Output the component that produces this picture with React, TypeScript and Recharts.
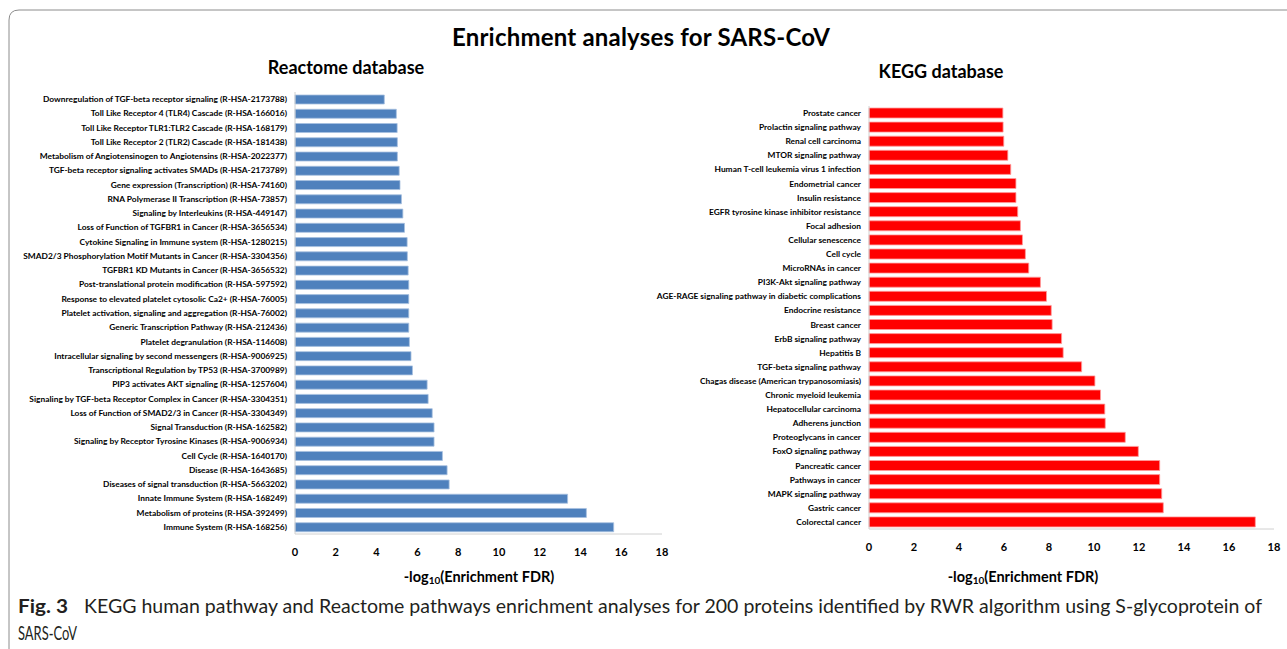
import React from 'react';
import { BarChart, Bar, XAxis, YAxis } from 'recharts';

const xTicks = [0, 2, 4, 6, 8, 10, 12, 14, 16, 18];

const reactomeLabels = [
  'Downregulation of TGF-beta receptor signaling (R-HSA-2173788)',
  'Toll Like Receptor 4 (TLR4) Cascade (R-HSA-166016)',
  'Toll Like Receptor TLR1:TLR2 Cascade (R-HSA-168179)',
  'Toll Like Receptor 2 (TLR2) Cascade (R-HSA-181438)',
  'Metabolism of Angiotensinogen to Angiotensins (R-HSA-2022377)',
  'TGF-beta receptor signaling activates SMADs (R-HSA-2173789)',
  'Gene expression (Transcription) (R-HSA-74160)',
  'RNA Polymerase II Transcription (R-HSA-73857)',
  'Signaling by Interleukins (R-HSA-449147)',
  'Loss of Function of TGFBR1 in Cancer (R-HSA-3656534)',
  'Cytokine Signaling in Immune system (R-HSA-1280215)',
  'SMAD2/3 Phosphorylation Motif Mutants in Cancer (R-HSA-3304356)',
  'TGFBR1 KD Mutants in Cancer (R-HSA-3656532)',
  'Post-translational protein modification (R-HSA-597592)',
  'Response to elevated platelet cytosolic Ca2+ (R-HSA-76005)',
  'Platelet activation, signaling and aggregation (R-HSA-76002)',
  'Generic Transcription Pathway (R-HSA-212436)',
  'Platelet degranulation  (R-HSA-114608)',
  'Intracellular signaling by second messengers (R-HSA-9006925)',
  'Transcriptional Regulation by TP53 (R-HSA-3700989)',
  'PIP3 activates AKT signaling (R-HSA-1257604)',
  'Signaling by TGF-beta Receptor Complex in Cancer (R-HSA-3304351)',
  'Loss of Function of SMAD2/3 in Cancer (R-HSA-3304349)',
  'Signal Transduction (R-HSA-162582)',
  'Signaling by Receptor Tyrosine Kinases (R-HSA-9006934)',
  'Cell Cycle (R-HSA-1640170)',
  'Disease (R-HSA-1643685)',
  'Diseases of signal transduction (R-HSA-5663202)',
  'Innate Immune System (R-HSA-168249)',
  'Metabolism of proteins (R-HSA-392499)',
  'Immune System (R-HSA-168256)',
];
const reactomeValues = [
  4.38, 4.97, 5.01, 5.02, 5.02, 5.11, 5.15, 5.22, 5.29, 5.37, 5.5, 5.51, 5.55, 5.58, 5.58, 5.58,
  5.58, 5.61, 5.69, 5.76, 6.48, 6.53, 6.73, 6.82, 6.82, 7.23, 7.46, 7.56, 13.37, 14.29, 15.63,
];

const keggLabels = [
  'Prostate cancer',
  'Prolactin signaling pathway',
  'Renal cell carcinoma',
  'MTOR signaling pathway',
  'Human T-cell leukemia virus 1 infection',
  'Endometrial cancer',
  'Insulin resistance',
  'EGFR tyrosine kinase inhibitor resistance',
  'Focal adhesion',
  'Cellular senescence',
  'Cell cycle',
  'MicroRNAs in cancer',
  'PI3K-Akt signaling pathway',
  'AGE-RAGE signaling pathway in diabetic complications',
  'Endocrine resistance',
  'Breast cancer',
  'ErbB signaling pathway',
  'Hepatitis B',
  'TGF-beta signaling pathway',
  'Chagas disease (American trypanosomiasis)',
  'Chronic myeloid leukemia',
  'Hepatocellular carcinoma',
  'Adherens junction',
  'Proteoglycans in cancer',
  'FoxO signaling pathway',
  'Pancreatic cancer',
  'Pathways in cancer',
  'MAPK signaling pathway',
  'Gastric cancer',
  'Colorectal cancer',
];
const keggValues = [
  5.95, 5.96, 5.99, 6.17, 6.3, 6.53, 6.53, 6.61, 6.73, 6.82, 6.95, 7.1, 7.62, 7.89, 8.1, 8.14,
  8.56, 8.63, 9.45, 10.04, 10.29, 10.48, 10.5, 11.39, 11.97, 12.92, 12.92, 13.01, 13.08, 17.17,
];

const reactomeData = reactomeLabels.map((name, i) => ({ name, value: reactomeValues[i] }));
const keggData = keggLabels.map((name, i) => ({ name, value: keggValues[i] }));

const FONT = 'Lato, "Open Sans", sans-serif';
const xTick = { fontSize: 11, fontWeight: 700, fill: '#000', fontFamily: FONT };

// one-line category label, no wrapping
const CategoryTick = (props: any) => {
  const { x, y, payload } = props;
  return (
    <text x={x} y={y} dy={3} textAnchor="end" fontFamily={FONT} fontWeight={700} fontSize={8.4} fill="#000">
      {payload.value}
    </text>
  );
};

const AxisTitle: React.FC<{ x: number; y: number }> = ({ x, y }) => (
  <text x={x} y={y} textAnchor="middle" fontFamily={FONT} fontWeight={700} fontSize={14.5} fill="#000">
    -log
    <tspan fontSize={10} dy={2}>10</tspan>
    <tspan dy={-2}>(Enrichment FDR)</tspan>
  </text>
);

export default function App() {
  return (
    <div style={{ position: 'absolute', left: 0, top: 0, width: 1287, height: 649, background: '#fff' }}>
      <div style={{ position: 'absolute', left: 0, top: 0 }}>
        <BarChart
          width={700}
          height={560}
          data={reactomeData}
          layout="vertical"
          margin={{ top: 92, right: 38, bottom: 0, left: 0 }}
        >
          <XAxis
            type="number"
            domain={[0, 18]}
            ticks={xTicks}
            height={26}
            tickLine={false}
            tickMargin={8}
            axisLine={{ stroke: '#d0d0d0' }}
            tick={xTick}
          />
          <YAxis
            type="category"
            dataKey="name"
            width={295}
            interval={0}
            tickLine={false}
            axisLine={{ stroke: '#d0d0d0' }}
            tick={<CategoryTick />}
          />
          <Bar dataKey="value" fill="#4F81BD" stroke="#A7C0E0" strokeWidth={0.8} barSize={9} isAnimationActive={false} />
        </BarChart>
      </div>
      <div style={{ position: 'absolute', left: 640, top: 0 }}>
        <BarChart
          width={647}
          height={555}
          data={keggData}
          layout="vertical"
          margin={{ top: 106, right: 13, bottom: 0, left: 0 }}
        >
          <XAxis
            type="number"
            domain={[0, 18]}
            ticks={xTicks}
            height={26}
            tickLine={false}
            tickMargin={8}
            axisLine={{ stroke: '#d0d0d0' }}
            tick={xTick}
          />
          <YAxis
            type="category"
            dataKey="name"
            width={229}
            interval={0}
            tickLine={false}
            axisLine={{ stroke: '#d0d0d0' }}
            tick={<CategoryTick />}
          />
          <Bar dataKey="value" fill="#FF0000" stroke="#FF9C9C" strokeWidth={0.8} barSize={10} isAnimationActive={false} />
        </BarChart>
      </div>
      <svg
        width={1287}
        height={649}
        style={{ position: 'absolute', left: 0, top: 0, pointerEvents: 'none' }}
      >
        <path d="M 9 649 L 9 20 Q 9 10 19 10 L 1287 10" fill="none" stroke="#8c8c8c" strokeWidth={1} />
        <text x={641} y={46} textAnchor="middle" fontFamily={FONT} fontWeight={700} fontSize={24} fill="#000" textLength={378}>
          Enrichment analyses  for SARS-CoV
        </text>
        <text x={346} y={74} textAnchor="middle" fontFamily={FONT} fontWeight={700} fontSize={18} fill="#000">
          Reactome database
        </text>
        <text x={941} y={78} textAnchor="middle" fontFamily={FONT} fontWeight={700} fontSize={18} fill="#000">
          KEGG database
        </text>
        <AxisTitle x={479} y={582} />
        <AxisTitle x={1023} y={582} />
        <text x={18} y={613} fontFamily={FONT} fontWeight={700} fontSize={19} fill="#231f20" textLength={50} lengthAdjust="spacingAndGlyphs">
          Fig. 3
        </text>
        <text x={84} y={613} fontFamily={FONT} fontSize={19} fill="#231f20" textLength={1178} lengthAdjust="spacingAndGlyphs">
          KEGG human pathway and Reactome pathways enrichment analyses for 200 proteins identified by RWR algorithm using S-glycoprotein of
        </text>
        <text x={18} y={640} fontFamily={FONT} fontSize={19} fill="#231f20" textLength={59} lengthAdjust="spacingAndGlyphs">
          SARS-CoV
        </text>
      </svg>
    </div>
  );
}
